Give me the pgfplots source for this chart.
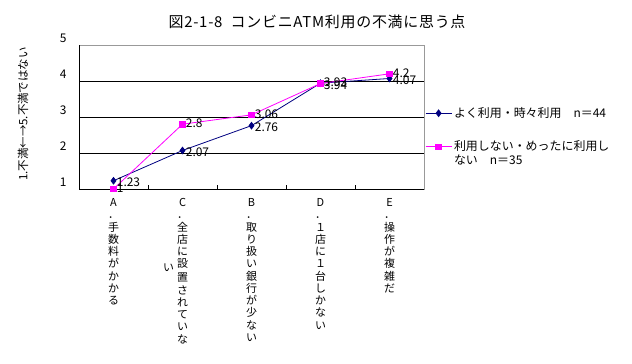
\documentclass[border=0pt]{standalone}
\usepackage{fontspec}
\setmainfont{Noto Sans CJK JP}
\usepackage{pgfplots}
\pgfplotsset{compat=1.18}
\definecolor{navy}{RGB}{0,0,128}
\definecolor{mag}{RGB}{255,0,255}
\begin{document}
\begin{tikzpicture}[x=1bp,y=1bp]
\useasboundingbox (0,0) rectangle (632,363);
\node[font=\fontsize{15}{17}\selectfont\addfontfeature{LetterSpace=5}] at (317,341) {図2-1-8\ \ コンビニATM利用の不満に思う点};
\node[rotate=90, font=\fontsize{11.5}{13}\selectfont] at (23,249) {1.不満←→5.不満ではない};
\begin{axis}[
  at={(79bp,174bp)}, anchor=south west,
  width=345bp, height=144bp, scale only axis,
  xmin=-0.5, xmax=4.5, ymin=1, ymax=5,
  ytick={1,2,3,4,5},
  xtick={0,1,2,3,4},
  minor xtick={0.5,1.5,2.5,3.5},
  major tick length=0pt, minor tick length=4bp,
  tick align=inside, xtick pos=bottom, ytick pos=left,
  minor x tick style={black, line width=0.6bp},
  ymajorgrids, grid style={black, line width=0.7bp},
  axis line style={gray!80, line width=0.6bp},
  clip=false,
  /pgf/number format/assume math mode=true,
  yticklabel style={font=\fontsize{12}{14}\selectfont, anchor=east, xshift=-9bp, yshift=7bp},
  xticklabel style={font=\fontsize{11}{12.3}\selectfont, anchor=north, align=center, yshift=-6bp},
  xticklabels={
    {A\\．\\手\\数\\料\\が\\か\\か\\る},
    {C\\．\\全\\店\\に\\\llap{\raisebox{-4bp}{い}\hspace{3bp}}設\\置\\さ\\れ\\て\\い\\な},
    {B\\．\\取\\り\\扱\\い\\銀\\行\\が\\少\\な\\い},
    {D\\．\\１\\店\\に\\１\\台\\し\\か\\な\\い},
    {E\\．\\操\\作\\が\\複\\雑\\だ}},
  legend style={at={(1,0.41)}, anchor=west, draw=none, fill=none,
    font=\fontsize{12}{14}\selectfont, row sep=18bp, inner xsep=1bp,
    cells={anchor=west}},
  legend cell align=left,
  legend image code/.code={\draw[mark repeat=2,mark phase=2,#1] plot coordinates {(0bp,0bp) (13bp,0bp) (26bp,0bp)};},
  nodes near coords, point meta=explicit symbolic,
  every node near coord/.append style={anchor=west, text=black, font=\fontsize{12}{14}\selectfont, inner sep=1bp, xshift=2bp},
]
\draw[black, line width=0.7bp] (rel axis cs:0,0) -- (rel axis cs:1,0);
\draw[black, line width=0.7bp] (rel axis cs:0,0) -- (rel axis cs:0,1);
\addplot[navy, line width=0.8bp, mark=diamond*, mark size=3.3bp, mark options={fill=navy, draw=navy},
  every node near coord/.append style={yshift=-2bp}]
  coordinates {(0,1.23)[1.23] (1,2.07)[2.07] (2,2.76)[2.76] (3,3.94)[3.94] (4,4.07)[4.07]};
\addlegendentry{よく利用・時々利用　n＝44}
\addplot[mag, line width=0.8bp, mark=square*, mark size=2.8bp, mark options={fill=mag, draw=mag},
  every node near coord/.append style={yshift=1bp}]
  coordinates {(0,1)[1] (1,2.8)[2.8] (2,3.06)[3.06] (3,3.93)[3.93] (4,4.2)[4.2]};
\addlegendentry{\begin{tabular}[t]{@{}l@{}}利用しない・めったに利用し\\ない　n＝35\end{tabular}}
\end{axis}
\end{tikzpicture}
\end{document}
